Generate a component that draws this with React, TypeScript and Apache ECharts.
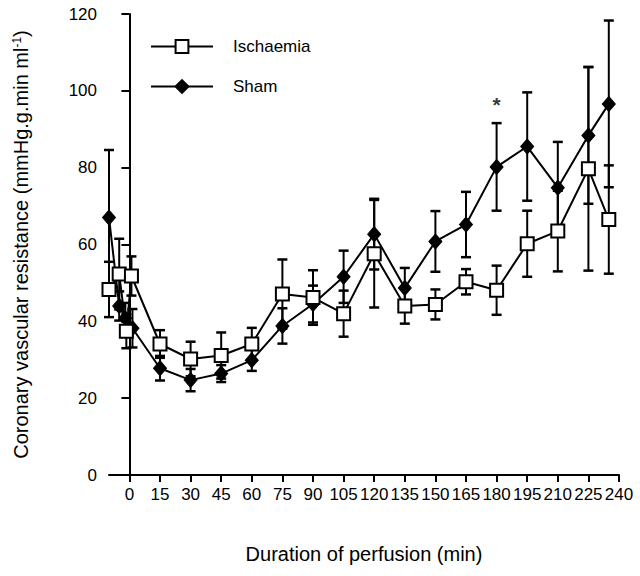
import React, { useEffect, useRef } from "react";
import * as echarts from "echarts";

const xTicks = [0, 15, 30, 45, 60, 75, 90, 105, 120, 135, 150, 165, 180, 195, 210, 225, 240];

const ischTimes = [-10, -5, -1.5, 1, 15, 30, 45, 60, 75, 90, 105, 120, 135, 150, 165, 180, 195, 210, 225, 235];
const ischValues = [48.3, 52.3, 37.4, 51.8, 34.1, 30.2, 31.1, 34.1, 47.1, 46.2, 42.0, 57.6, 44.0, 44.4, 50.3, 48.1, 60.2, 63.5, 79.7, 66.5];
const ischErrors = [7.2, 9.2, 4.4, 5.1, 3.6, 4.5, 6.0, 4.2, 9.0, 7.1, 6.0, 14.0, 4.6, 3.9, 3.3, 6.4, 8.6, 10.5, 26.5, 14.1];

const shamTimes = [-10, -5, -2, 1.5, 15, 30, 45, 60, 75, 90, 105, 120, 135, 150, 165, 180, 195, 210, 225, 235];
const shamValues = [67.0, 44.0, 40.8, 38.2, 27.8, 24.7, 26.4, 29.9, 38.8, 44.5, 51.6, 62.7, 48.7, 60.8, 65.2, 80.2, 85.5, 74.8, 88.4, 96.6];
const shamErrors = [17.6, 3.8, 4.0, 5.0, 3.2, 2.9, 2.2, 2.8, 4.6, 4.8, 6.8, 9.2, 5.2, 7.9, 8.5, 11.4, 14.1, 11.9, 17.8, 21.7];

const significance = [[180, 96.5]];

const FONT = "Liberation Sans, Arial, Helvetica, sans-serif";

function errorBarItem(params: any, api: any) {
  const x = api.value(0);
  const lo = api.coord([x, api.value(1)]);
  const hi = api.coord([x, api.value(2)]);
  const hw = 5;
  const style = { stroke: "#000", lineWidth: 2 };
  return {
    type: "group",
    children: [
      { type: "line", shape: { x1: lo[0], y1: lo[1], x2: hi[0], y2: hi[1] }, style },
      { type: "line", shape: { x1: hi[0] - hw, y1: hi[1], x2: hi[0] + hw, y2: hi[1] }, style: { stroke: "#000", lineWidth: 2.5 } },
      { type: "line", shape: { x1: lo[0] - hw, y1: lo[1], x2: lo[0] + hw, y2: lo[1] }, style: { stroke: "#000", lineWidth: 2.5 } },
    ],
  };
}

export default function App() {
  const ref = useRef<HTMLDivElement>(null);
  useEffect(() => {
    if (!ref.current) return;
    const chart = echarts.init(ref.current, null, { renderer: "svg" });
    const isch = ischTimes.map((t, i) => [t, ischValues[i]]);
    const sham = shamTimes.map((t, i) => [t, shamValues[i]]);
    const ischErr = ischTimes.map((t, i) => [t, ischValues[i] - ischErrors[i], ischValues[i] + ischErrors[i]]);
    const shamErr = shamTimes.map((t, i) => [t, shamValues[i] - shamErrors[i], shamValues[i] + shamErrors[i]]);
    chart.setOption({
      animation: false,
      backgroundColor: "#fff",
      textStyle: { fontFamily: FONT, color: "#000" },
      grid: { left: 109, right: 21, top: 14, bottom: 101, containLabel: false },
      legend: {
        orient: "vertical",
        left: 150,
        top: 38,
        padding: 0,
        itemWidth: 62,
        itemHeight: 16,
        itemGap: 23,
        data: ["Ischaemia", "Sham"],
        textStyle: { fontFamily: FONT, fontSize: 17, color: "#000", padding: [0, 0, 0, 15] },
      },
      xAxis: {
        type: "value",
        min: -10,
        max: 240,
        name: "Duration of perfusion (min)",
        nameLocation: "middle",
        nameGap: 69,
        nameTextStyle: { fontFamily: FONT, fontSize: 20, color: "#000" },
        axisLine: { onZero: false, lineStyle: { color: "#000", width: 2 } },
        axisTick: { show: true, customValues: xTicks, length: 7, lineStyle: { color: "#000", width: 2 } },
        axisLabel: { customValues: xTicks, fontSize: 17, color: "#000", margin: 11, fontFamily: FONT },
        splitLine: { show: false },
      },
      yAxis: {
        type: "value",
        min: 0,
        max: 120,
        interval: 20,
        name: "{a|Coronary vascular resistance (mmHg.g.min ml}{s|-1}{a|)}",
        nameLocation: "middle",
        nameGap: 78,
        nameTextStyle: {
          fontFamily: FONT,
          color: "#000",
          rich: {
            a: { fontFamily: FONT, fontSize: 20, color: "#000" },
            s: { fontFamily: FONT, fontSize: 12, color: "#000", verticalAlign: "top" },
          },
        },
        axisLine: { show: true, lineStyle: { color: "#000", width: 2 } },
        axisTick: { show: true, length: 8, lineStyle: { color: "#000", width: 2 } },
        axisLabel: { fontSize: 17, color: "#000", margin: 12, fontFamily: FONT },
        splitLine: { show: false },
      },
      series: [
        {
          type: "custom",
          name: "Ischaemia error",
          renderItem: errorBarItem,
          data: ischErr,
          encode: { x: 0, y: [1, 2] },
          clip: false,
          z: 1,
          silent: true,
        },
        {
          type: "custom",
          name: "Sham error",
          renderItem: errorBarItem,
          data: shamErr,
          encode: { x: 0, y: [1, 2] },
          clip: false,
          z: 1,
          silent: true,
        },
        {
          type: "line",
          name: "Sham",
          data: sham,
          symbol: "diamond",
          symbolSize: [13, 15],
          showAllSymbol: true,
          lineStyle: { color: "#000", width: 2 },
          itemStyle: { color: "#000", borderColor: "#000", borderWidth: 1 },
          z: 3,
        },
        {
          type: "line",
          name: "Ischaemia",
          data: isch,
          symbol: "rect",
          symbolSize: 13,
          showAllSymbol: true,
          lineStyle: { color: "#000", width: 2 },
          itemStyle: { color: "#fff", borderColor: "#000", borderWidth: 2 },
          z: 4,
        },
        {
          type: "scatter",
          name: "significance",
          data: significance,
          symbolSize: 1,
          itemStyle: { color: "transparent" },
          label: { show: true, position: "inside", formatter: "*", fontSize: 21, fontWeight: "bold", color: "#000", fontFamily: FONT },
          z: 5,
          silent: true,
        },
      ],
    });
    return () => chart.dispose();
  }, []);
  return (
    <div
      ref={ref}
      style={{ position: "absolute", left: 0, top: 0, width: 640, height: 576, background: "#fff" }}
    />
  );
}
